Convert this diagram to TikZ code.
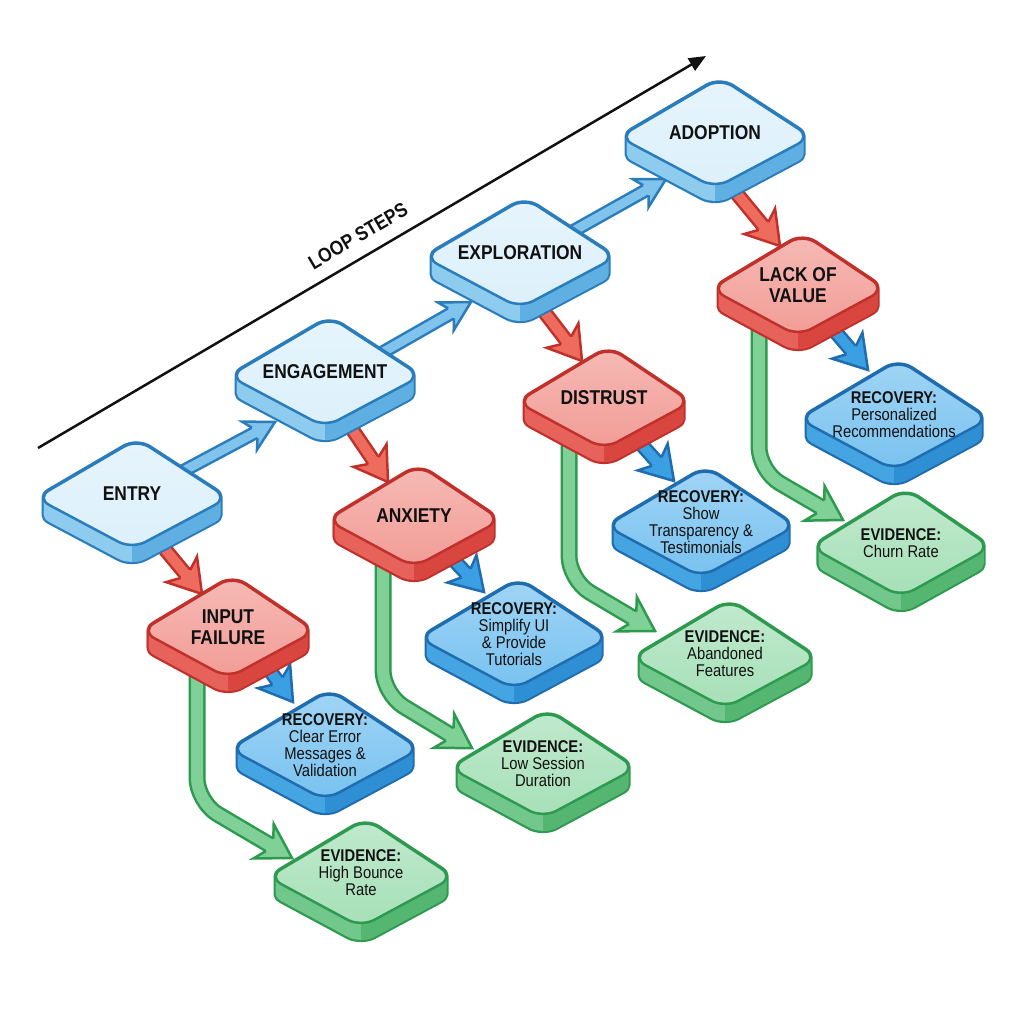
\documentclass[tikz,border=0pt]{standalone}
\usepackage{fontspec}
\newfontfamily\lblfont{Liberation Sans}[FakeStretch=0.87]
\usetikzlibrary{calc,arrows.meta}
\pgfdeclarelayer{bgzero}
\pgfdeclarelayer{arrowlayer}
\pgfsetlayers{bgzero,arrowlayer,main}

\definecolor{ink}{HTML}{111111}
% step boxes
\definecolor{stepT}{HTML}{DCF0FB}
\definecolor{stepS}{HTML}{8DCBEF}
\definecolor{stepR}{HTML}{5FAFE2}
\definecolor{stepD}{HTML}{2A7DBA}
\definecolor{stepF}{HTML}{80C3EC}
% failure boxes
\definecolor{failT}{HTML}{F29C96}
\definecolor{failS}{HTML}{E8625C}
\definecolor{failR}{HTML}{D9463F}
\definecolor{failD}{HTML}{C0312B}
\definecolor{failF}{HTML}{EE6C5E}
% recovery boxes
\definecolor{recT}{HTML}{78C2F0}
\definecolor{recS}{HTML}{45A5E3}
\definecolor{recR}{HTML}{2F8FD4}
\definecolor{recD}{HTML}{1F6DAE}
\definecolor{recF}{HTML}{3AA0E3}
% evidence boxes
\definecolor{evT}{HTML}{A6E0B8}
\definecolor{evS}{HTML}{72C88C}
\definecolor{evR}{HTML}{55B672}
\definecolor{evD}{HTML}{2E9A4F}
\definecolor{evF}{HTML}{80D197}

\def\thk{17}
\def\rct{15pt}
\def\lw{2.5pt}

\tikzset{
  boxtitle/.style={font=\lblfont\bfseries\fontsize{20}{21}\selectfont, text=ink, align=center, inner sep=0pt},
  boxsub/.style={font=\lblfont\fontsize{17}{17}\selectfont, text=ink, align=center, inner sep=0pt},
  looplbl/.style={font=\lblfont\bfseries\fontsize{20}{21}\selectfont, text=ink, inner sep=0pt},
}

% extruded body: union of the top face moved down 0..thk
\newcommand{\bodypath}[4]{%
  foreach \k in {0,1,...,\thk} {
    ({#1-#3},{#2+4+\k}) -- ({#1+5},{#2-#4+\k}) -- ({#1+#3},{#2+4+\k}) -- ({#1},{#2+#4+\k}) -- cycle
  }%
}

% #1 name, #2 cx, #3 cy, #4 half width, #5 half height, #6 family, #7 text style, #8 text
\newcommand{\isobox}[8]{%
  \coordinate (#1-L) at ({#2-#4},{#3+4});
  \coordinate (#1-T) at ({#2+5},{#3-#5});
  \coordinate (#1-R) at ({#2+#4},{#3+4});
  \coordinate (#1-B) at ({#2},{#3+#5});
  \draw[#6D, line width=4.5pt, rounded corners=\rct, line join=round] \bodypath{#2}{#3}{#4}{#5};
  \fill[#6S, rounded corners=\rct] \bodypath{#2}{#3}{#4}{#5};
  \begin{scope}
    \clip[rounded corners=\rct] \bodypath{#2}{#3}{#4}{#5};
    \fill[#6R] ({#2},{#3-#5}) rectangle ({#2+#4+10},{#3+#5+\thk+10});
  \end{scope}
  \filldraw[top color=#6T!70!white, bottom color=#6T, draw=#6D, line width=\lw, rounded corners=\rct, line join=round] (#1-L) -- (#1-T) -- (#1-R) -- (#1-B) -- cycle;
  \node[#7] (#1) at (#2,#3) {#8};
}

% arrow head: #1 family, #2 H, #3 tip, #4 outline half width at shaft, #5 head half width, #6 notch
\newcommand{\ahead}[6]{%
  \path (#2) coordinate (ah-H) (#3) coordinate (ah-B);
  \path ($(ah-H)!-#6!(ah-B)$) coordinate (ah-N);
  \fill[#1F] ($(ah-H)!#4!90:(ah-B)$) -- ($(ah-N)!#5!90:(ah-B)$) -- (ah-B) -- ($(ah-N)!#5!-90:(ah-B)$) -- ($(ah-H)!#4!-90:(ah-B)$) -- cycle;
  \draw[#1D, line width=\lw, line join=miter] ($(ah-H)!#4!90:(ah-B)$) -- ($(ah-N)!#5!90:(ah-B)$) -- (ah-B) -- ($(ah-N)!#5!-90:(ah-B)$) -- ($(ah-H)!#4!-90:(ah-B)$);
}

% straight fat arrow: #1 family, #2 start, #3 tip, #4 outer width, #5 inner width, #6 outline half width, #7 head half width, #8 head length
\newcommand{\fatline}[8]{%
  \path (#2) coordinate (fl-A) (#3) coordinate (fl-B);
  \path ($(fl-B)!#8!(fl-A)$) coordinate (fl-H);
  \path ($(fl-H)!2pt!(fl-B)$) coordinate (fl-H2);
  \draw[#1D, line width=#4] (fl-A) -- (fl-H);
  \draw[#1F, line width=#5] (fl-A) -- (fl-H2);
  \ahead{#1}{fl-H}{fl-B}{#6}{#7}{6pt}
}

% green elbow arrow: #1 start, #2 bend, #3 tip
\newcommand{\evarrow}[3]{%
  \path (#2) coordinate (ga-M) (#3) coordinate (ga-B);
  \path ($(ga-B)!26pt!(ga-M)$) coordinate (ga-H);
  \path ($(ga-H)!2pt!(ga-B)$) coordinate (ga-H2);
  \draw[evD, line width=17pt, rounded corners=24pt] (#1) -- (ga-M) -- (ga-H);
  \draw[evF, line width=12pt, rounded corners=24pt] (#1) -- (ga-M) -- (ga-H2);
  \ahead{ev}{ga-H}{ga-B}{7.25pt}{20pt}{7pt}
}

\begin{document}
\begin{tikzpicture}[x=1pt,y=-1pt]
\useasboundingbox (0,0) rectangle (1024,1024);
\begin{pgfonlayer}{bgzero}
  \fill[white] (0,0) rectangle (1024,1024);
\end{pgfonlayer}

% loop steps axis
\coordinate (ls0) at (38,448);
\coordinate (ls1) at (706,56);
\draw[ink, line width=2.5pt, -{Triangle[length=17pt,width=14pt]}] (ls0) -- (ls1);
\node[looplbl, rotate=30.4] (lsl) at (358,236) {LOOP STEPS};

% loop steps
\isobox{entry}{132}{494}{96}{55}{step}{boxtitle}{ENTRY}
\isobox{engagement}{325}{372}{96}{55}{step}{boxtitle}{ENGAGEMENT}
\isobox{exploration}{520}{253}{96}{55}{step}{boxtitle}{EXPLORATION}
\isobox{adoption}{715}{133}{96}{55}{step}{boxtitle}{ADOPTION}

% failures
\isobox{input}{228}{627}{87}{51}{fail}{boxtitle}{INPUT\\FAILURE}
\isobox{anxiety}{414}{516}{87}{51}{fail}{boxtitle}{ANXIETY}
\isobox{distrust}{604}{398}{87}{51}{fail}{boxtitle}{DISTRUST}
\isobox{lack}{798}{285}{87}{51}{fail}{boxtitle}{LACK OF\\VALUE}

% recoveries
\isobox{rec1}{325}{745}{95}{55}{rec}{boxsub}{\textbf{RECOVERY:}\\Clear Error\\Messages \&\\Validation}
\isobox{rec2}{514}{634}{95}{55}{rec}{boxsub}{\textbf{RECOVERY:}\\Simplify UI\\\& Provide\\Tutorials}
\isobox{rec3}{701}{522}{95}{55}{rec}{boxsub}{\textbf{RECOVERY:}\\Show\\Transparency \&\\Testimonials}
\isobox{rec4}{894}{415}{95}{55}{rec}{boxsub}{\textbf{RECOVERY:}\\Personalized\\Recommendations}

% evidence
\isobox{ev1}{361}{873}{93}{54}{ev}{boxsub}{\textbf{EVIDENCE:}\\High Bounce\\Rate}
\isobox{ev2}{543}{764}{93}{54}{ev}{boxsub}{\textbf{EVIDENCE:}\\Low Session\\Duration}
\isobox{ev3}{725}{654}{93}{54}{ev}{boxsub}{\textbf{EVIDENCE:}\\Abandoned\\Features}
\isobox{ev4}{901}{543}{90}{54}{ev}{boxsub}{\textbf{EVIDENCE:}\\Churn Rate}

\begin{pgfonlayer}{arrowlayer}
  % step flow
  \fatline{step}{$(entry)+(27,-10)$}{$(engagement)+(-50,50)$}{14pt}{9pt}{5.75pt}{16pt}{23pt}
  \fatline{step}{$(engagement)+(32,-5)$}{$(exploration)+(-49,49)$}{14pt}{9pt}{5.75pt}{16pt}{23pt}
  \fatline{step}{$(exploration)+(32,-10)$}{$(adoption)+(-49,46)$}{14pt}{9pt}{5.75pt}{16pt}{23pt}
  % failures
  \fatline{fail}{$(entry)+(22,42)$}{$(input)+(-26,-33)$}{15pt}{10pt}{6.25pt}{20pt}{26pt}
  \fatline{fail}{$(engagement)+(16,41)$}{$(anxiety)+(-26,-34)$}{15pt}{10pt}{6.25pt}{20pt}{26pt}
  \fatline{fail}{$(exploration)+(19,52)$}{$(distrust)+(-22,-37)$}{15pt}{10pt}{6.25pt}{20pt}{26pt}
  \fatline{fail}{$(adoption)+(13,50)$}{$(lack)+(-18,-39)$}{15pt}{10pt}{6.25pt}{20pt}{26pt}
  % recoveries
  \fatline{rec}{$(input)+(34,33)$}{$(rec1)+(-32,-43)$}{15pt}{10pt}{6.25pt}{20pt}{26pt}
  \fatline{rec}{$(anxiety)+(32,36)$}{$(rec2)+(-30,-42)$}{15pt}{10pt}{6.25pt}{20pt}{26pt}
  \fatline{rec}{$(distrust)+(29,37)$}{$(rec3)+(-27,-41)$}{15pt}{10pt}{6.25pt}{20pt}{26pt}
  \fatline{rec}{$(lack)+(29,37)$}{$(rec4)+(-26,-45)$}{15pt}{10pt}{6.25pt}{20pt}{26pt}
  % evidence
  \evarrow{$(input)+(-31,0)$}{$(input)+(-31,175)$}{$(ev1)+(-69,-15)$}
  \evarrow{$(anxiety)+(-31,0)$}{$(anxiety)+(-31,178)$}{$(ev2)+(-71,-16)$}
  \evarrow{$(distrust)+(-35,0)$}{$(distrust)+(-35,182)$}{$(ev3)+(-70,-23)$}
  \evarrow{$(lack)+(-39,0)$}{$(lack)+(-39,186)$}{$(ev4)+(-58,-23)$}
\end{pgfonlayer}
\end{tikzpicture}
\end{document}
